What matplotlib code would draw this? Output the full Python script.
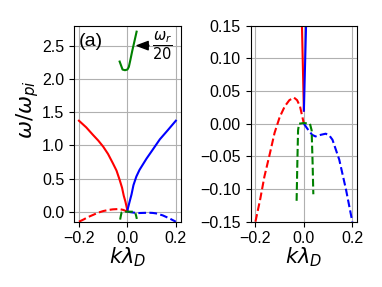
import matplotlib
matplotlib.use('Agg')
import matplotlib.pyplot as plt

plt.rcParams['font.family'] = ['Liberation Sans', 'DejaVu Sans']

k_red = [-0.2, -0.17, -0.143, -0.12, -0.1, -0.08, -0.06, -0.045, -0.032, -0.022, -0.015, -0.008, 0.0]
w_red = [1.37, 1.27, 1.16, 1.07, 0.98, 0.87, 0.73, 0.62, 0.48, 0.36, 0.24, 0.15, 0.02]

k_blue = [0.0, 0.009, 0.017, 0.025, 0.037, 0.05, 0.079, 0.1, 0.134, 0.165, 0.2]
w_blue = [0.02, 0.15, 0.26, 0.40, 0.53, 0.63, 0.80, 0.91, 1.09, 1.22, 1.37]

k_red_im = [-0.2, -0.18, -0.163, -0.14, -0.121, -0.1, -0.079, -0.06, -0.041, -0.028, -0.016, 0.0]
g_red = [-0.15, -0.115, -0.081, -0.045, -0.014, 0.01, 0.0265, 0.036, 0.04, 0.036, 0.0265, 0.0]

k_blue_im = [0.0, 0.015, 0.034, 0.048, 0.07, 0.09, 0.105, 0.118, 0.146, 0.174, 0.2]
g_blue = [0.0, -0.008, -0.017, -0.0195, -0.017, -0.0153, -0.018, -0.0245, -0.055, -0.101, -0.15]

k_green_im = [-0.03, -0.027, -0.024, -0.02, 0.0, 0.025, 0.032, 0.036, 0.039]
g_green = [-0.118, -0.06, -0.01, 0.0, 0.001, 0.0, -0.01, -0.06, -0.108]

k_green = [-0.032, -0.026, -0.02, -0.01, 0.0, 0.006, 0.012, 0.02, 0.03, 0.038]
w_green = [2.26, 2.2, 2.14, 2.13, 2.14, 2.18, 2.28, 2.42, 2.58, 2.71]

fig = plt.figure(figsize=(3.82, 2.87), dpi=100)
ax1 = fig.add_axes([0.194, 0.2275, 0.279, 0.683])
ax2 = fig.add_axes([0.656, 0.2275, 0.279, 0.683])

for ax in (ax1, ax2):
    ax.plot(k_red, w_red, color='r', lw=1.5)
    ax.plot(k_blue, w_blue, color='b', lw=1.5)
    ax.plot(k_red_im, g_red, color='r', ls='--', lw=1.5)
    ax.plot(k_blue_im, g_blue, color='b', ls='--', lw=1.5)
    ax.plot(k_green_im, g_green, color='g', ls='--', lw=1.5)
    ax.grid(True)
    ax.set_xlim(-0.22, 0.22)
    ax.set_xticks([-0.2, 0.0, 0.2])
    ax.tick_params(labelsize=11.5)
    ax.set_xlabel(r'$k\lambda_D$', fontsize=15, labelpad=-1)

ax1.plot(k_green, w_green, color='g', lw=1.5)
ax1.set_ylim(-0.15, 2.8)
ax1.set_yticks([0.0, 0.5, 1.0, 1.5, 2.0, 2.5])
ax1.set_ylabel(r'$\omega/\omega_{pi}$', fontsize=15.5)
ax1.yaxis.set_label_coords(-0.31, 0.57)
ax1.text(0.04, 0.965, '(a)', transform=ax1.transAxes, fontsize=14, va='top')
ax1.annotate(r'$\dfrac{\omega_r}{20}$', xy=(0.04, 2.5), xytext=(0.1, 2.5),
             va='center', ha='left', fontsize=10.5,
             arrowprops=dict(facecolor='black', width=0.5, headwidth=6,
                             headlength=8, shrink=0))

ax2.set_ylim(-0.15, 0.15)
ax2.set_yticks([-0.15, -0.1, -0.05, 0.0, 0.05, 0.1, 0.15])

fig.savefig('out.png', dpi=100)
